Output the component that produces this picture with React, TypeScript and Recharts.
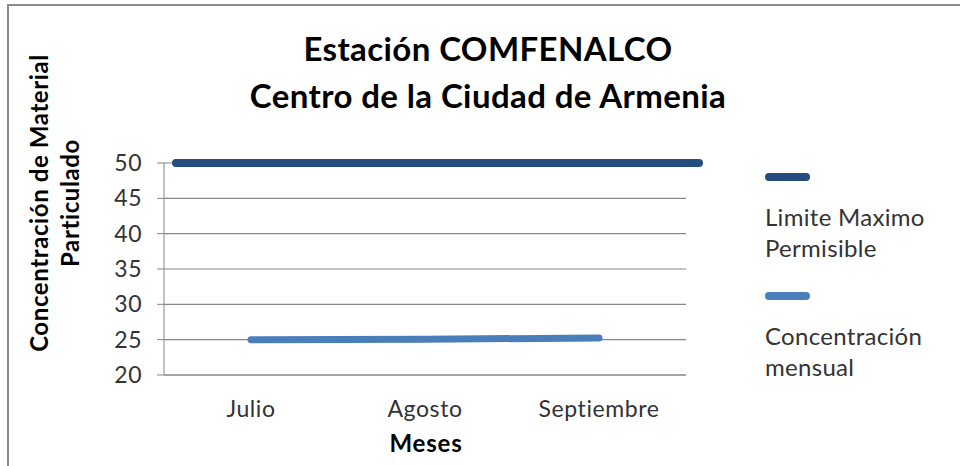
import { CartesianGrid, Legend, Line, LineChart, XAxis, YAxis } from "recharts";

const months = ["Julio", "Agosto", "Septiembre"];
const monthlyConcentration = [25, 25.05, 25.25];
const limitPositions = [0, 1];
const limitValues = [50, 50];
const yTicks = [20, 25, 30, 35, 40, 45, 50];
const legendOrder = ["Limite Maximo Permisible", "Concentración mensual"];

const monthlyData = months.map((month, i) => ({ month, value: monthlyConcentration[i] }));
const limitData = limitPositions.map((pos, i) => ({ pos, limit: limitValues[i] }));

const FONT = "Lato, 'Open Sans', sans-serif";
const AXIS_GRAY = "#868686";
const TEXT = "#333333";

function LegendContent({ payload }: any) {
  const items = [...(payload || [])].sort(
    (a: any, b: any) => legendOrder.indexOf(a.value) - legendOrder.indexOf(b.value)
  );
  return (
    <div
      style={{
        fontFamily: FONT,
        fontSize: 24,
        letterSpacing: 0.3,
        color: TEXT,
        lineHeight: "31px",
      }}
    >
      {items.map((item: any) => (
        <div key={item.value} style={{ height: 119 }}>
          <div
            style={{
              width: 45,
              height: 8,
              borderRadius: 4,
              backgroundColor: item.color,
              marginBottom: 20,
            }}
          />
          <div>{item.value}</div>
        </div>
      ))}
    </div>
  );
}

export default function App() {
  return (
    <div
      style={{
        position: "absolute",
        left: 0,
        top: 0,
        width: 960,
        height: 466,
        background: "#fff",
        fontFamily: FONT,
        overflow: "hidden",
      }}
    >
      <div
        style={{
          position: "absolute",
          left: 7,
          top: 4,
          right: -10,
          bottom: -10,
          borderLeft: "2px solid #8a8a8a",
          borderTop: "2px solid #8a8a8a",
        }}
      />
      <div
        style={{
          position: "absolute",
          left: 488,
          top: 25,
          transform: "translateX(-50%)",
          textAlign: "center",
          fontWeight: 700,
          fontSize: 33,
          letterSpacing: 0.4,
          lineHeight: "47px",
          color: "#000",
          whiteSpace: "nowrap",
        }}
      >
        <div>Estación COMFENALCO</div>
        <div>Centro de la Ciudad de Armenia</div>
      </div>
      <div
        style={{
          position: "absolute",
          left: 54,
          top: 203,
          transform: "translate(-50%, -50%) rotate(-90deg)",
          textAlign: "center",
          fontWeight: 700,
          fontSize: 24,
          letterSpacing: 0.6,
          lineHeight: "31px",
          color: "#000",
          whiteSpace: "nowrap",
        }}
      >
        <div>Concentración de Material</div>
        <div>Particulado</div>
      </div>
      <div
        style={{
          position: "absolute",
          left: 426,
          top: 442,
          transform: "translate(-50%, -50%)",
          fontWeight: 700,
          fontSize: 24,
          letterSpacing: 0.8,
          color: "#000",
          whiteSpace: "nowrap",
        }}
      >
        Meses
      </div>
      <LineChart
        width={960}
        height={466}
        data={monthlyData}
        margin={{ top: 163, right: 274, bottom: 61, left: 104 }}
      >
        <CartesianGrid vertical={false} stroke={AXIS_GRAY} strokeWidth={1.2} />
        <XAxis
          xAxisId="month"
          dataKey="month"
          height={30}
          padding={{ left: 87, right: 87 }}
          axisLine={{ stroke: AXIS_GRAY }}
          tickLine={false}
          tickSize={0}
          tickMargin={26}
          tick={{ fill: TEXT, fontSize: 23, fontFamily: FONT, letterSpacing: 0.6 }}
        />
        <XAxis
          xAxisId="span"
          dataKey="pos"
          type="number"
          domain={[0, 1]}
          padding={{ left: 12, right: -13 }}
          hide
        />
        <YAxis
          domain={[20, 50]}
          ticks={yTicks}
          width={60}
          axisLine={{ stroke: AXIS_GRAY }}
          tickLine={{ stroke: AXIS_GRAY }}
          tickSize={7}
          tickMargin={15}
          tick={{ fill: TEXT, fontSize: 23, fontFamily: FONT, letterSpacing: 0.5 }}
        />
        <Line
          xAxisId="span"
          data={limitData}
          dataKey="limit"
          name="Limite Maximo Permisible"
          stroke="#244C7E"
          strokeWidth={8}
          strokeLinecap="round"
          dot={false}
          activeDot={false}
          isAnimationActive={false}
        />
        <Line
          xAxisId="month"
          dataKey="value"
          name="Concentración mensual"
          stroke="#4A7EBB"
          strokeWidth={7}
          strokeLinecap="round"
          dot={false}
          activeDot={false}
          isAnimationActive={false}
        />
        <Legend
          layout="vertical"
          align="center"
          verticalAlign="middle"
          content={<LegendContent />}
          wrapperStyle={{ left: 765, top: 173, width: 180 }}
        />
      </LineChart>
    </div>
  );
}
